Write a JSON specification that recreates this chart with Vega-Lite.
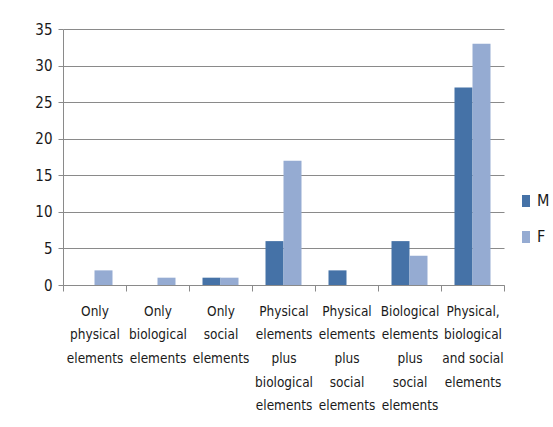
{
  "$schema": "https://vega.github.io/schema/vega-lite/v6.json",
  "autosize": {"type": "none"},
  "padding": {"left": 63, "top": 29, "right": 49, "bottom": 142},
  "width": 441,
  "height": 256,
  "background": "white",
  "config": {
    "view": {"stroke": null},
    "font": "'DejaVu Sans Condensed', 'Liberation Sans', sans-serif",
    "axis": {"labelFont": "'DejaVu Sans Condensed', 'Liberation Sans', sans-serif", "labelColor": "#1a1a1a"}
  },
  "data": {
    "values": [
      {"category": "Only\nphysical\nelements", "sex": "M", "count": 0},
      {"category": "Only\nphysical\nelements", "sex": "F", "count": 2},
      {"category": "Only\nbiological\nelements", "sex": "M", "count": 0},
      {"category": "Only\nbiological\nelements", "sex": "F", "count": 1},
      {"category": "Only\nsocial\nelements", "sex": "M", "count": 1},
      {"category": "Only\nsocial\nelements", "sex": "F", "count": 1},
      {"category": "Physical\nelements\nplus\nbiological\nelements", "sex": "M", "count": 6},
      {"category": "Physical\nelements\nplus\nbiological\nelements", "sex": "F", "count": 17},
      {"category": "Physical\nelements\nplus\nsocial\nelements", "sex": "M", "count": 2},
      {"category": "Physical\nelements\nplus\nsocial\nelements", "sex": "F", "count": 0},
      {"category": "Biological\nelements\nplus\nsocial\nelements", "sex": "M", "count": 6},
      {"category": "Biological\nelements\nplus\nsocial\nelements", "sex": "F", "count": 4},
      {"category": "Physical,\nbiological\nand social\nelements", "sex": "M", "count": 27},
      {"category": "Physical,\nbiological\nand social\nelements", "sex": "F", "count": 33}
    ]
  },
  "mark": {"type": "bar"},
  "encoding": {
    "x": {
      "field": "category",
      "type": "nominal",
      "sort": null,
      "scale": {"paddingInner": 0, "paddingOuter": 0},
      "axis": {
        "title": null,
        "labelAngle": 0,
        "labelExpr": "split(datum.label, '\\n')",
        "labelFontSize": 13.5,
        "labelLineHeight": 23.7,
        "labelBaseline": "top",
        "labelPadding": 13,
        "tickBand": "extent",
        "tickSize": 6,
        "tickColor": "#8a8a8a",
        "domainColor": "#8a8a8a",
        "grid": false
      }
    },
    "xOffset": {
      "field": "sex",
      "type": "nominal",
      "sort": ["M", "F"],
      "scale": {"paddingInner": 0, "paddingOuter": 0.75}
    },
    "y": {
      "field": "count",
      "type": "quantitative",
      "scale": {"domain": [0, 35]},
      "axis": {
        "title": null,
        "values": [0, 5, 10, 15, 20, 25, 30, 35],
        "labelFontSize": 15,
        "labelPadding": 6,
        "tickSize": 5,
        "tickColor": "#8a8a8a",
        "domainColor": "#8a8a8a",
        "grid": true,
        "gridColor": "#8a8a8a"
      }
    },
    "color": {
      "field": "sex",
      "type": "nominal",
      "sort": ["M", "F"],
      "scale": {"domain": ["M", "F"], "range": ["#4572A7", "#95ABD2"]},
      "legend": {
        "title": null,
        "orient": "none",
        "legendX": 455,
        "legendY": 164,
        "symbolType": "M-0.67,-1H0.67V1H-0.67Z",
        "symbolSize": 144,
        "symbolStrokeWidth": 0,
        "labelFontSize": 16,
        "labelFont": "'DejaVu Sans Condensed', 'Liberation Sans', sans-serif",
        "labelColor": "#1a1a1a",
        "labelOffset": 3,
        "rowPadding": 20
      }
    }
  }
}
